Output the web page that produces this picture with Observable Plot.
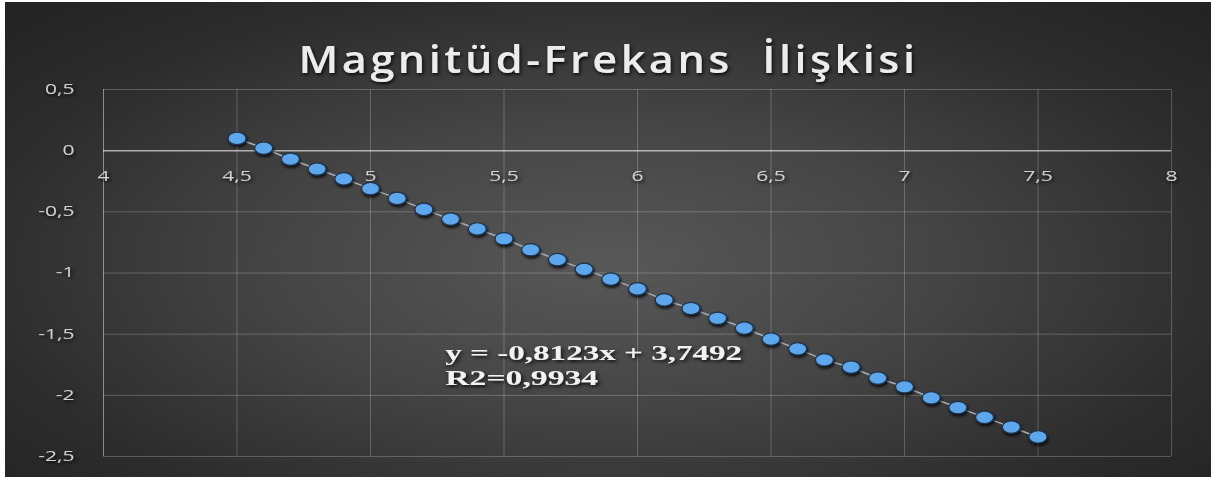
<!DOCTYPE html>
<html><head><meta charset="utf-8">
<script src="https://cdn.jsdelivr.net/npm/d3@7"></script>
<script src="https://cdn.jsdelivr.net/npm/@observablehq/plot@0.6"></script>
<style>
html,body{margin:0;padding:0;background:#fff;overflow:hidden;}
#chart svg{display:block;}
</style></head><body><div id="chart"></div>
<script>
// ---- data ----
const magnitude = [4.5,4.6,4.7,4.8,4.9,5.0,5.1,5.2,5.3,5.4,5.5,5.6,5.7,5.8,5.9,6.0,6.1,6.2,6.3,6.4,6.5,6.6,6.7,6.8,6.9,7.0,7.1,7.2,7.3,7.4,7.5];
const logN = [0.10,0.02,-0.07,-0.15,-0.23,-0.31,-0.39,-0.48,-0.56,-0.64,-0.72,-0.81,-0.89,-0.97,-1.05,-1.13,-1.22,-1.29,-1.37,-1.45,-1.54,-1.62,-1.71,-1.77,-1.86,-1.93,-2.02,-2.10,-2.18,-2.26,-2.34];
const xTickValues = [4,4.5,5,5.5,6,6.5,7,7.5,8];
const xTickLabels = ["4","4,5","5","5,5","6","6,5","7","7,5","8"];
const yTickValues = [0.5,0,-0.5,-1,-1.5,-2,-2.5];
const yTickLabels = ["0,5","0","-0,5","-1","-1,5","-2","-2,5"];
const titleText = "Magnitüd-Frekans\u00a0\u00a0İlişkisi";
const equationLines = ["y = -0,8123x + 3,7492", "R2=0,9934"];

const data = magnitude.map((m, i) => ({m, v: logN[i]}));

// ellipse-shaped symbol (the reference is horizontally stretched)
const ellipse = {
  draw(ctx) {
    const rx = 9, ry = 6.2, k = 0.5523;
    ctx.moveTo(rx, 0);
    ctx.bezierCurveTo(rx, ry * k, rx * k, ry, 0, ry);
    ctx.bezierCurveTo(-rx * k, ry, -rx, ry * k, -rx, 0);
    ctx.bezierCurveTo(-rx, -ry * k, -rx * k, -ry, 0, -ry);
    ctx.bezierCurveTo(rx * k, -ry, rx, -ry * k, rx, 0);
    ctx.closePath();
  }
};

const tickStyle = {fontSize: 14, fill: "#cfcfcf", fontFamily: "'Open Sans', sans-serif"};
const eqStyle = {fontSize: 22, fill: "#f2f2f2", fontWeight: "bold", fontFamily: "'Liberation Serif', serif", textAnchor: "start"};

const plot = Plot.plot({
  width: 1211, height: 479,
  marginLeft: 103, marginRight: 40, marginTop: 89, marginBottom: 23,
  x: {domain: [4, 8], axis: null},
  y: {domain: [-2.5, 0.5], axis: null},
  style: {
    background: "linear-gradient(to right, #fff 0 5px, transparent 5px), linear-gradient(to bottom, #fff 0 2px, transparent 2px 477px, #fff 477px), radial-gradient(ellipse farthest-corner at 50% 55%, #585858 0%, #444 40%, #2c2c2c 75%, #222 100%)",
    fontFamily: "'Open Sans', sans-serif"
  },
  marks: [
    Plot.ruleX(xTickValues.filter(v => v !== 4), {x: d => d, stroke: "#fff", strokeOpacity: 0.22}),
    Plot.ruleY(yTickValues.filter(v => v !== 0), {y: d => d, stroke: "#fff", strokeOpacity: 0.22}),
    Plot.ruleX([4], {x: d => d, stroke: "#fff", strokeOpacity: 0.45}),
    Plot.ruleY([0], {y: d => d, stroke: "#fff", strokeOpacity: 0.6, strokeWidth: 1.5}),
    Plot.text(yTickValues, {frameAnchor: "left", y: d => d, text: (d, i) => yTickLabels[i], textAnchor: "end", dx: -29, ...tickStyle}),
    Plot.text(xTickValues, {x: d => d, y: () => 0, text: (d, i) => xTickLabels[i], dy: 26, ...tickStyle}),
    Plot.line(data, {x: "m", y: "v", stroke: "#a3adb8", strokeWidth: 1.5}),
    Plot.dot(data, {x: "m", y: "v", symbol: ellipse, fill: "#5ea7ec", stroke: "#1c324d", strokeWidth: 1.2}),
    Plot.text([equationLines[0]], {x: () => 5.28, y: () => -1.657, text: d => d, ...eqStyle}),
    Plot.text([equationLines[1]], {x: () => 5.28, y: () => -1.657, dy: 24.5, text: d => d, ...eqStyle}),
    Plot.text([titleText], {frameAnchor: "top", dx: -29, dy: -43, text: d => d, fontSize: 37, fontWeight: 600, fill: "#ececec", fontFamily: "'Open Sans', sans-serif"})
  ]
});
document.getElementById("chart").appendChild(plot);

// shadow filter
const ns = "http://www.w3.org/2000/svg";
const defs = document.createElementNS(ns, "defs");
defs.innerHTML = '<filter id="sh" x="-20%" y="-40%" width="140%" height="180%"><feDropShadow dx="1" dy="2" stdDeviation="1.6" flood-color="#000" flood-opacity="0.85"/></filter>';
plot.insertBefore(defs, plot.firstChild);

// horizontal stretch of text like the reference picture
const targets = {};
targets[titleText] = 620;
targets[equationLines[0]] = 297;
targets[equationLines[1]] = 153;
plot.querySelectorAll("text").forEach(t => {
  const s = t.textContent;
  if (s === titleText) t.style.letterSpacing = "3px";
  let sx = 1.5;
  if (targets[s] !== undefined) sx = targets[s] / t.getComputedTextLength();
  t.setAttribute("transform", (t.getAttribute("transform") || "") + ` scale(${sx},1)`);
  t.setAttribute("filter", "url(#sh)");
});
plot.querySelectorAll("path").forEach(p => { if (p.closest("g[aria-label='dot']")) p.setAttribute("filter", "url(#sh)"); });
</script></body></html>
